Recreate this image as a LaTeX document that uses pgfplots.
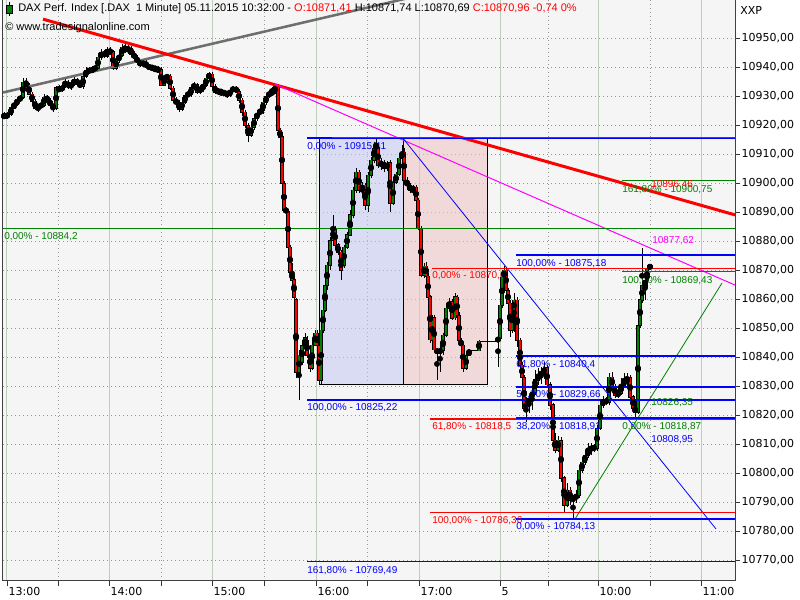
\documentclass[border=0pt]{standalone}
\usepackage{fontspec}
\setmainfont{Liberation Sans}
\newfontfamily\dejavu{DejaVu Sans}
\usepackage{pgfplots}
\pgfplotsset{compat=1.18}
\usepackage{pgfplotstable}

\definecolor{cgreen}{RGB}{0,128,0}
\definecolor{cred}{RGB}{255,0,0}
\definecolor{cblue}{RGB}{0,0,255}
\definecolor{cmag}{RGB}{255,0,255}
\definecolor{plotbg}{RGB}{245,245,245}
\definecolor{gridsolid}{RGB}{190,205,190}
\definecolor{griddot}{RGB}{150,150,150}
\definecolor{trendgrey}{RGB}{110,110,110}
\definecolor{rectblue}{RGB}{195,200,240}
\definecolor{rectpink}{RGB}{240,195,195}

\newcommand\axf{\dejavu\fontsize{8.25}{10}\selectfont}
\newcommand\labf{\fontsize{7.5}{9}\selectfont}
\newcommand\hdf{\fontsize{8.25}{10}\selectfont}

% candles: x (pixel position of the minute), open, high, low, close
\pgfplotstableread{
x o h l c
7 10922.8 10924.5 10922.1 10923.8
11 10923.8 10926.5 10923.1 10925.9
14 10925.9 10928.3 10925.5 10927.2
17 10927.2 10929.7 10926.5 10928.6
20 10928.6 10930.3 10927.9 10929.7
23 10929.7 10936.2 10929.0 10934.8
38 10925.9 10927.2 10924.5 10926.5
41 10926.5 10927.6 10925.9 10926.9
44 10926.9 10930.7 10926.2 10929.7
56 10925.9 10933.4 10925.2 10932.8
62 10932.1 10934.1 10931.4 10933.4
65 10933.4 10935.9 10932.8 10934.8
71 10933.4 10935.2 10932.1 10934.1
74 10934.1 10936.5 10933.4 10935.5
83 10933.4 10937.2 10932.4 10936.9
86 10936.9 10940.0 10936.2 10939.0
92 10938.6 10940.3 10937.9 10939.3
95 10939.3 10940.7 10938.3 10939.7
98 10939.7 10944.1 10939.0 10943.4
101 10943.4 10946.2 10942.4 10945.2
107 10943.8 10946.9 10943.1 10945.9
116 10939.7 10943.4 10939.0 10942.4
119 10942.4 10945.2 10941.4 10944.1
122 10944.1 10947.9 10943.4 10946.9
128 10945.9 10947.6 10944.5 10946.6
143 10941.0 10942.4 10940.0 10941.4
152 10939.7 10940.7 10938.6 10940.0
158 10939.0 10940.3 10938.3 10939.3
164 10933.8 10937.2 10933.4 10936.5
167 10936.5 10937.6 10935.5 10936.9
182 10925.5 10929.0 10924.8 10927.9
185 10927.9 10931.0 10927.2 10930.3
188 10930.3 10931.7 10929.7 10930.7
191 10930.7 10933.4 10929.7 10932.8
194 10932.8 10934.8 10932.1 10934.1
200 10931.4 10933.8 10930.7 10932.8
203 10932.8 10934.5 10931.4 10933.8
206 10933.8 10936.9 10933.1 10936.2
209 10936.2 10938.3 10935.5 10937.6
218 10931.4 10932.8 10930.3 10932.1
224 10931.0 10932.1 10930.0 10931.4
230 10930.3 10932.8 10929.7 10932.1
233 10932.1 10933.4 10931.4 10932.8
251 10916.5 10920.3 10915.9 10919.3
254 10919.3 10923.1 10918.3 10922.4
257 10922.4 10925.2 10921.4 10924.1
260 10924.1 10926.2 10923.4 10925.2
263 10925.2 10928.6 10924.1 10927.9
266 10927.9 10930.7 10927.2 10930.0
269 10930.0 10932.1 10929.3 10931.0
272 10931.0 10933.1 10930.3 10931.4
275 10931.4 10934.1 10930.7 10933.4
299 10834.8 10842.4 10825.2 10840.7
302 10838.3 10845.9 10837.3 10844.1
305 10844.1 10848.3 10841.7 10846.6
312 10836.2 10845.9 10835.5 10844.1
315 10844.1 10849.3 10843.8 10848.3
321 10832.1 10851.0 10830.4 10849.3
323 10849.3 10857.9 10848.3 10856.2
325 10856.2 10866.6 10855.5 10864.8
327 10864.8 10872.8 10863.1 10871.7
330 10871.7 10881.7 10870.0 10880.3
333 10880.3 10889.0 10879.7 10884.5
344 10871.7 10878.6 10870.7 10877.9
347 10877.9 10883.1 10877.2 10882.1
350 10882.1 10890.7 10881.7 10889.0
353 10889.0 10898.6 10887.9 10897.6
356 10897.6 10905.2 10896.6 10903.8
362 10897.6 10900.3 10895.2 10899.3
368 10892.4 10903.8 10890.3 10902.8
371 10902.8 10909.0 10901.7 10907.9
374 10907.9 10914.1 10906.9 10912.1
376 10912.1 10915.4 10910.7 10913.1
381 10906.2 10908.6 10904.5 10907.2
387 10905.2 10907.9 10904.5 10906.9
393 10893.1 10901.4 10892.4 10900.3
396 10900.3 10903.8 10899.7 10903.1
399 10903.1 10909.7 10902.4 10908.6
402 10908.6 10913.1 10907.2 10910.7
413 10897.6 10899.3 10895.9 10898.6
424 10868.3 10872.4 10867.3 10871.4
432 10845.9 10854.5 10844.1 10853.5
440 10841.7 10844.1 10834.8 10842.4
443 10842.4 10848.3 10840.7 10847.6
446 10847.6 10857.9 10846.9 10856.9
449 10856.9 10860.4 10856.2 10859.0
455 10853.5 10862.1 10852.8 10860.7
466 10836.2 10841.7 10835.5 10840.7
469 10840.7 10842.8 10840.7 10842.1
479 10842.2 10845.9 10842.1 10845.5
498 10845.5 10847.6 10836.6 10846.6
500 10846.6 10859.0 10845.9 10857.9
502 10857.9 10869.0 10856.9 10867.6
504 10867.6 10871.4 10865.5 10870.0
512 10849.3 10857.9 10848.3 10856.2
514 10856.2 10862.1 10848.6 10859.7
526 10822.4 10826.2 10817.6 10824.1
529 10824.1 10826.9 10821.0 10825.9
532 10825.9 10829.3 10821.7 10827.9
535 10827.9 10835.5 10826.9 10832.1
538 10832.1 10836.2 10830.4 10833.8
541 10833.8 10836.6 10830.7 10834.8
544 10834.8 10838.3 10832.4 10836.2
558 10807.9 10812.8 10807.3 10811.4
567 10789.0 10796.6 10788.3 10794.1
573 10790.7 10792.4 10784.1 10791.4
576 10791.4 10794.1 10789.7 10792.4
579 10792.4 10802.1 10791.4 10801.0
582 10801.0 10804.8 10800.0 10803.8
585 10803.8 10807.9 10802.8 10806.2
588 10806.2 10810.4 10805.2 10807.9
591 10807.9 10810.4 10806.2 10809.0
597 10808.6 10816.6 10807.6 10815.5
600 10815.5 10825.2 10814.8 10823.5
603 10823.5 10826.6 10822.4 10825.2
609 10824.5 10834.8 10823.5 10833.1
618 10826.9 10829.0 10825.9 10827.6
621 10827.6 10832.8 10826.9 10830.4
624 10830.4 10834.5 10829.3 10832.1
627 10832.1 10834.8 10829.3 10832.8
638 10821.0 10852.1 10820.4 10851.0
640 10851.0 10861.4 10850.0 10859.7
642 10859.7 10877.6 10858.6 10864.8
645 10864.8 10867.9 10859.7 10866.6
647 10866.6 10871.7 10863.8 10870.7
}\greenc

\pgfplotstableread{
x o h l c
4 10923.4 10924.5 10922.1 10922.8
26 10934.8 10936.2 10932.8 10933.4
29 10933.4 10934.5 10930.3 10930.7
32 10930.7 10931.4 10927.6 10928.3
35 10928.3 10929.0 10925.2 10925.9
47 10929.7 10930.3 10927.9 10928.6
50 10928.6 10929.3 10925.9 10926.9
53 10926.9 10927.6 10924.8 10925.9
59 10932.8 10933.8 10931.4 10932.1
68 10934.8 10935.5 10932.4 10933.4
77 10935.5 10936.2 10933.4 10934.5
80 10934.5 10935.2 10932.8 10933.4
89 10939.0 10940.0 10937.6 10938.6
104 10945.2 10945.9 10943.1 10943.8
110 10945.9 10946.9 10944.1 10945.2
113 10945.2 10945.9 10939.0 10939.7
125 10946.9 10947.9 10944.8 10945.9
131 10946.6 10947.2 10943.8 10944.5
134 10944.5 10945.5 10942.4 10943.4
137 10943.4 10944.1 10941.0 10941.7
140 10941.7 10942.4 10940.0 10941.0
146 10941.4 10942.4 10939.7 10940.3
149 10940.3 10941.0 10939.0 10939.7
155 10940.0 10940.3 10938.3 10939.0
161 10939.3 10940.0 10933.4 10933.8
170 10936.9 10937.6 10932.1 10932.8
173 10932.8 10933.4 10927.9 10928.6
176 10928.6 10929.7 10926.9 10927.6
179 10927.6 10928.6 10924.5 10925.5
197 10934.1 10934.8 10930.7 10931.4
212 10937.6 10938.3 10932.8 10933.4
215 10933.4 10934.1 10930.7 10931.4
221 10932.1 10932.4 10930.0 10931.0
227 10931.4 10931.7 10929.3 10930.3
236 10932.8 10933.4 10931.0 10931.7
239 10931.7 10932.4 10927.9 10928.6
242 10928.6 10929.3 10923.4 10924.5
245 10924.5 10925.2 10919.0 10920.0
248 10920.0 10920.7 10914.1 10916.5
278 10933.4 10934.1 10917.6 10918.3
280 10918.3 10919.0 10915.2 10915.9
282 10915.9 10916.5 10899.3 10900.0
284 10900.0 10900.7 10890.0 10890.7
286 10890.7 10891.7 10889.3 10890.3
288 10890.3 10891.0 10877.2 10877.9
290 10877.9 10878.6 10868.3 10869.3
292 10869.3 10872.4 10865.5 10866.6
294 10866.6 10868.3 10859.7 10860.7
296 10859.7 10860.4 10832.8 10834.8
307 10845.9 10847.3 10839.7 10840.7
310 10840.7 10842.4 10834.8 10836.2
317 10848.3 10849.3 10842.4 10844.1
319 10844.1 10845.9 10830.7 10832.1
335 10884.5 10885.2 10877.6 10878.6
338 10878.6 10879.3 10875.2 10876.2
341 10876.2 10876.9 10866.6 10870.0
359 10903.8 10904.5 10896.6 10897.6
365 10899.3 10900.0 10890.7 10892.4
378 10912.1 10912.8 10905.2 10906.2
384 10907.2 10908.3 10904.1 10905.2
390 10906.9 10907.9 10890.0 10893.1
404 10910.7 10912.1 10900.3 10901.0
407 10901.0 10902.1 10897.6 10899.3
410 10899.3 10900.0 10896.6 10897.6
416 10898.6 10899.3 10893.5 10894.1
418 10894.1 10894.8 10883.8 10884.5
421 10884.5 10885.2 10867.6 10868.3
426 10871.4 10872.8 10867.3 10867.9
428 10867.9 10869.0 10859.7 10860.7
430 10860.7 10861.4 10844.8 10845.9
434 10853.5 10854.5 10841.7 10842.4
437 10842.4 10843.1 10832.1 10841.7
452 10859.0 10860.0 10852.8 10853.5
457 10860.7 10861.4 10853.5 10854.5
459 10854.5 10855.5 10844.8 10845.9
461 10845.9 10846.6 10843.1 10844.1
463 10844.1 10845.2 10834.8 10836.2
506 10870.0 10870.7 10862.1 10863.1
508 10863.1 10864.1 10857.6 10858.6
510 10858.6 10859.7 10846.9 10849.3
517 10859.7 10860.7 10843.5 10845.9
520 10845.9 10846.6 10832.8 10837.3
522 10837.3 10838.3 10832.1 10833.1
524 10833.1 10833.8 10821.0 10822.4
547 10836.2 10837.3 10829.3 10830.4
550 10830.4 10831.4 10821.7 10823.5
553 10823.5 10824.1 10807.9 10811.4
555 10811.4 10813.8 10806.9 10807.9
561 10811.4 10812.4 10796.9 10798.3
564 10798.3 10799.0 10786.2 10789.0
570 10794.1 10795.2 10789.0 10790.7
594 10809.0 10810.0 10807.3 10808.6
606 10825.2 10826.2 10823.5 10824.5
612 10833.1 10834.8 10828.6 10829.7
615 10829.7 10830.7 10825.9 10826.9
630 10832.8 10833.8 10825.2 10826.2
633 10826.2 10826.9 10821.4 10822.4
635 10822.4 10825.2 10818.9 10821.0
650 10871.41 10871.74 10870.69 10870.96
}\redc

\begin{document}
\begin{tikzpicture}
\path[use as bounding box] (0,0) rectangle (600pt,450pt);
\begin{axis}[
  at={(2.25pt,14.25pt)}, anchor=south west,
  scale only axis, width=549pt, height=435.75pt,
  xmin=3, xmax=735, ymin=10762.76, ymax=10963.10,
  scaled y ticks=false, scaled x ticks=false,
  axis background/.style={fill=plotbg},
  axis line style={draw=black!75, line width=0.75pt},
  tick align=outside,
  major tick length=3.75pt, minor tick length=3.75pt,
  every tick/.style={black!80, line width=0.6pt},
  ytick={10770,10780,...,10950},
  ytick pos=right, yticklabel pos=right,
  yticklabel={\pgfmathprintnumber[fixed,fixed zerofill,precision=2,use comma,1000 sep={},assume math mode=true]{\tick}},
  yticklabel style={font=\axf, anchor=west, inner sep=1pt},
  xtick pos=bottom,
  xtick={7,109,212,316,419,500,598,701},
  xticklabels={13:00,14:00,15:00,16:00,17:00,5,10:00,11:00},
  minor xtick={58,161,264,367,548,650},
  xticklabel style={font=\axf, anchor=north west, inner sep=1pt, xshift=0pt},
  xmajorgrids, xminorgrids, ymajorgrids,
  major x grid style={gridsolid, line width=0.75pt},
  minor x grid style={griddot, line width=0.6pt, dash pattern=on 0.75pt off 2.25pt},
  major y grid style={griddot, line width=0.6pt, dash pattern=on 0.75pt off 2.25pt},
  extra y ticks={10800,10850,10900,10950},
  extra y tick labels={},
  extra y tick style={major tick length=0pt, grid=major, major grid style={gridsolid, line width=0.75pt, solid}},
  clip=true,
]
% analysis rectangles
\addplot[forget plot, draw=black, line width=0.75pt, fill=rectblue, fill opacity=0.55]
  coordinates {(319,10915.41) (403,10915.41) (403,10830.4) (319,10830.4) (319,10915.41)};
\addplot[forget plot, draw=black, line width=0.75pt, fill=rectpink, fill opacity=0.55]
  coordinates {(403,10915.41) (487,10915.41) (487,10830.4) (403,10830.4) (403,10915.41)};

% session connector lines
\addplot[forget plot, black, line width=0.75pt] coordinates {(469,10842.2) (479,10842.2)};
\addplot[forget plot, black, line width=0.75pt] coordinates {(479,10845.5) (498,10845.5)};

% wicks
\addplot[forget plot, only marks, mark=none, error bars/.cd, y dir=both, y explicit, error mark=none,
  error bar style={line width=0.7pt, black}]
  table[x=x, y expr={(\thisrow{h}+\thisrow{l})/2}, y error expr={(\thisrow{h}-\thisrow{l})/2}] {\greenc};
\addplot[forget plot, only marks, mark=none, error bars/.cd, y dir=both, y explicit, error mark=none,
  error bar style={line width=0.7pt, black}]
  table[x=x, y expr={(\thisrow{h}+\thisrow{l})/2}, y error expr={(\thisrow{h}-\thisrow{l})/2}] {\redc};
% body outlines
\addplot[forget plot, only marks, mark=none, error bars/.cd, y dir=both, y explicit, error mark=none,
  error bar style={line width=2.7pt, black}]
  table[x=x, y expr={(\thisrow{o}+\thisrow{c})/2}, y error expr={abs(\thisrow{c}-\thisrow{o})/2+0.2}] {\greenc};
\addplot[forget plot, only marks, mark=none, error bars/.cd, y dir=both, y explicit, error mark=none,
  error bar style={line width=2.7pt, black}]
  table[x=x, y expr={(\thisrow{o}+\thisrow{c})/2}, y error expr={abs(\thisrow{c}-\thisrow{o})/2+0.2}] {\redc};
% body fills
\addplot[forget plot, only marks, mark=none, error bars/.cd, y dir=both, y explicit, error mark=none,
  error bar style={line width=1.9pt, cgreen}]
  table[x=x, y expr={(\thisrow{o}+\thisrow{c})/2}, y error expr={max(abs(\thisrow{c}-\thisrow{o})/2-0.05,0)}] {\greenc};
\addplot[forget plot, only marks, mark=none, error bars/.cd, y dir=both, y explicit, error mark=none,
  error bar style={line width=1.9pt, cred}]
  table[x=x, y expr={(\thisrow{o}+\thisrow{c})/2}, y error expr={max(abs(\thisrow{c}-\thisrow{o})/2-0.05,0)}] {\redc};

% trend lines
\addplot[forget plot, trendgrey, line width=1.9pt] coordinates {(3,10931.2) (410,10963.9)};
\addplot[forget plot, cred, line width=2.25pt] coordinates {(43,10956.5) (735,10889.0)};
\addplot[forget plot, cmag, line width=0.75pt] coordinates {(275,10934.1) (735,10864.8)};
\addplot[forget plot, cblue, line width=0.6pt] coordinates {(403,10915.41) (716,10780.7)};
\addplot[forget plot, cgreen, line width=0.6pt] coordinates {(575,10784.13) (722,10865.5)};

% horizontal levels
\addplot[forget plot, cgreen, line width=0.9pt] coordinates {(3,10884.2) (735,10884.2)};
\addplot[forget plot, cblue, line width=1.4pt] coordinates {(307,10915.41) (735,10915.41)};
\addplot[forget plot, cred, line width=1.1pt] coordinates {(332,10915.75) (735,10915.75)};
\addplot[forget plot, cblue, line width=1.4pt] coordinates {(307,10825.22) (735,10825.22)};
\addplot[forget plot, cblue, line width=1.4pt] coordinates {(307,10769.49) (735,10769.49)};
\addplot[forget plot, cred, line width=1.1pt] coordinates {(432,10870.6) (735,10870.6)};
\addplot[forget plot, cred, line width=1.4pt] coordinates {(430,10818.5) (735,10818.5)};
\addplot[forget plot, cred, line width=1.1pt] coordinates {(430,10786.36) (735,10786.36)};
\addplot[forget plot, cblue, line width=1.4pt] coordinates {(516,10875.18) (735,10875.18)};
\addplot[forget plot, cblue, line width=1.4pt] coordinates {(516,10840.4) (735,10840.4)};
\addplot[forget plot, cblue, line width=1.4pt] coordinates {(516,10829.66) (735,10829.66)};
\addplot[forget plot, cblue, line width=1.1pt] coordinates {(516,10818.91) (735,10818.91)};
\addplot[forget plot, cblue, line width=1.4pt] coordinates {(516,10784.13) (735,10784.13)};
\addplot[forget plot, cgreen, line width=0.9pt] coordinates {(622,10900.75) (735,10900.75)};
\addplot[forget plot, cgreen, line width=0.9pt] coordinates {(622,10869.43) (735,10869.43)};

% level labels
\begin{scope}[every node/.style={anchor=west, inner sep=0pt, font=\labf}]
\node[text=cgreen] at (axis cs:4,10881.4) {0,00\% - 10884,2};
\node[text=cblue] at (axis cs:307,10912.4) {0,00\% - 10915,41};
\node[text=cblue] at (axis cs:307,10822.4) {100,00\% - 10825,22};
\node[text=cblue] at (axis cs:307,10766.2) {161,80\% - 10769,49};
\node[text=cred] at (axis cs:432,10867.9) {0,00\% - 10870,6};
\node[text=cred] at (axis cs:432,10815.9) {61,80\% - 10818,5};
\node[text=cred] at (axis cs:432,10783.4) {100,00\% - 10786,36};
\node[text=cblue] at (axis cs:516,10872.1) {100,00\% - 10875,18};
\node[text=cblue] at (axis cs:516,10837.2) {61,80\% - 10840,4};
\node[text=cblue] at (axis cs:516,10826.9) {50,00\% - 10829,66};
\node[text=cblue] at (axis cs:516,10815.9) {38,20\% - 10818,91};
\node[text=cblue] at (axis cs:516,10781.4) {0,00\% - 10784,13};
\node[text=cred] at (axis cs:651,10899.3) {10896,46};
\node[text=cgreen] at (axis cs:622,10897.6) {161,80\% - 10900,75};
\node[text=cgreen] at (axis cs:622,10866.2) {100,00\% - 10869,43};
\node[text=cgreen] at (axis cs:651,10824.1) {10826,35};
\node[text=cgreen] at (axis cs:622,10815.9) {0,00\% - 10818,87};
\node[text=cblue] at (axis cs:651,10811.4) {10808,95};
\node[text=cmag] at (axis cs:652,10880.0) {10877,62};
\end{scope}
\end{axis}

% header
\draw[black, line width=0.6pt] ({9*0.75pt},{(600-2)*0.75pt}) -- ({9*0.75pt},{(600-16)*0.75pt});
\filldraw[fill=cgreen, draw=black, line width=0.6pt] ({6*0.75pt},{(600-5)*0.75pt}) rectangle ({12*0.75pt},{(600-13)*0.75pt});
\node[anchor=west, inner sep=0pt, font=\hdf] at ({18*0.75pt},{(600-9)*0.75pt})
  {DAX Perf. Index [.DAX\ \ 1 Minute] 05.11.2015 10:32:00 - \textcolor{cred}{O:10871,41} H:10871,74 L:10870,69 \textcolor{cred}{C:10870,96 -0,74 0\%}};
\node[anchor=west, inner sep=0pt, font=\hdf] at ({5*0.75pt},{(600-28)*0.75pt}) {© www.tradesignalonline.com};
\node[anchor=west, inner sep=0pt, font=\axf] at ({740*0.75pt},{(600-10)*0.75pt}) {XXP};
\end{tikzpicture}
\end{document}
